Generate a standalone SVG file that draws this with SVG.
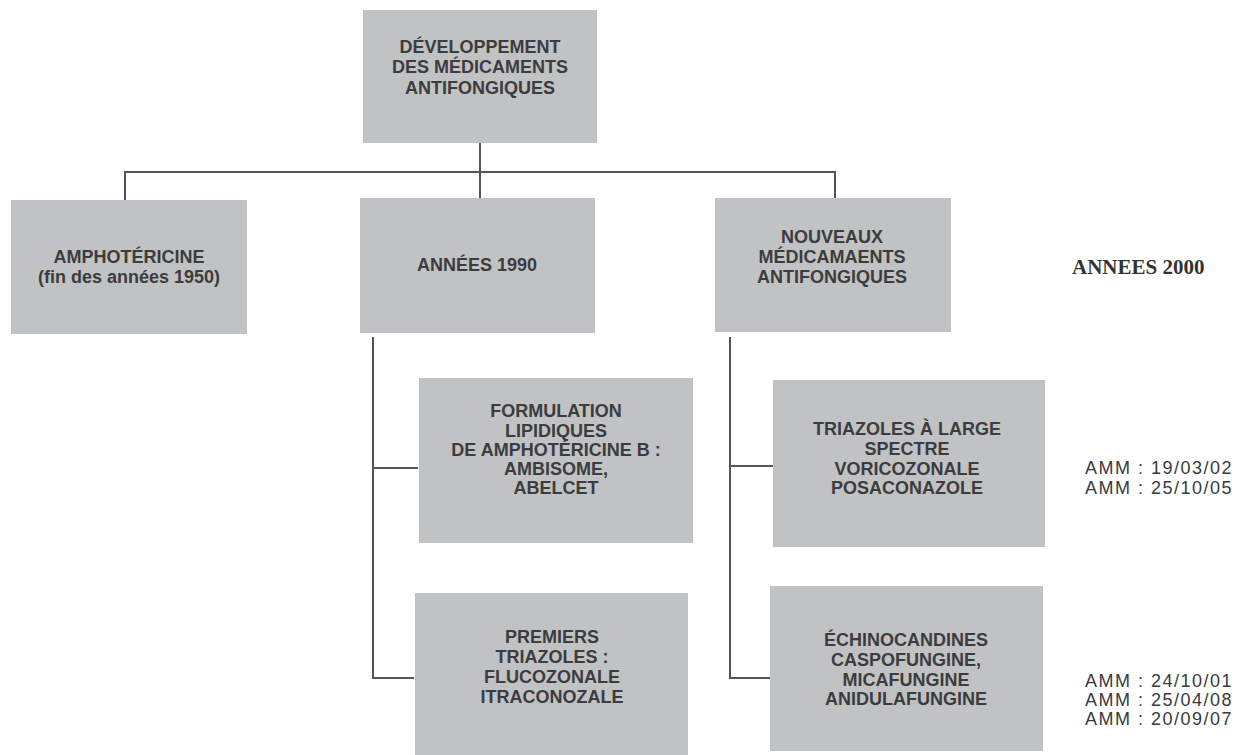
<svg xmlns="http://www.w3.org/2000/svg" width="1250" height="755" viewBox="0 0 1250 755">
<style>
.box{fill:#c1c2c4}
.t{font-family:"Liberation Sans",Arial,sans-serif;font-weight:bold;font-size:18px;fill:#3c3c3e;text-anchor:middle}
.amm{font-family:"Liberation Sans",Arial,sans-serif;font-size:18px;fill:#3a3a3a;letter-spacing:1.5px}
.era{font-family:"Liberation Serif","Times New Roman",serif;font-weight:bold;font-size:21px;fill:#333}
.c{fill:none;stroke:#555;stroke-width:2}
</style>
<rect width="1250" height="755" fill="#fff"/>
<g id="connectors">
<path class="c" d="M480 143V172M125 200V172H835V198M480 172V198"/>
<path class="c" d="M373 337V678H414M373 468H418"/>
<path class="c" d="M730 337V678H770M730 466H773"/>
</g>
<g id="n-root">
<rect class="box" x="363" y="10" width="234" height="133"/>
<text class="t" x="480" y="53">DÉVELOPPEMENT</text>
<text class="t" x="480" y="73">DES MÉDICAMENTS</text>
<text class="t" x="480" y="94">ANTIFONGIQUES</text>
</g>
<g id="n-ampho">
<rect class="box" x="11" y="200" width="236" height="134"/>
<text class="t" x="129" y="263">AMPHOTÉRICINE</text>
<text class="t" x="129" y="283">(fin des années 1950)</text>
</g>
<g id="n-1990">
<rect class="box" x="360" y="198" width="235" height="135"/>
<text class="t" x="477" y="271">ANNÉES 1990</text>
</g>
<g id="n-nouveaux">
<rect class="box" x="715" y="198" width="236" height="134"/>
<text class="t" x="832" y="243">NOUVEAUX</text>
<text class="t" x="832" y="263">MÉDICAMAENTS</text>
<text class="t" x="832" y="283">ANTIFONGIQUES</text>
</g>
<g id="n-era2000">
<text class="era" x="1072" y="274">ANNEES 2000</text>
</g>
<g id="n-formulation">
<rect class="box" x="419" y="378" width="274" height="165"/>
<text class="t" x="556" y="417">FORMULATION</text>
<text class="t" x="556" y="437">LIPIDIQUES</text>
<text class="t" x="556" y="456">DE AMPHOTÉRICINE B :</text>
<text class="t" x="556" y="475">AMBISOME,</text>
<text class="t" x="556" y="494">ABELCET</text>
</g>
<g id="n-premiers">
<rect class="box" x="415" y="593" width="273" height="170"/>
<text class="t" x="552" y="643">PREMIERS</text>
<text class="t" x="552" y="663">TRIAZOLES :</text>
<text class="t" x="552" y="683">FLUCOZONALE</text>
<text class="t" x="552" y="703">ITRACONOZALE</text>
</g>
<g id="n-triazoles">
<rect class="box" x="773" y="380" width="272" height="167"/>
<text class="t" x="907" y="435">TRIAZOLES À LARGE</text>
<text class="t" x="907" y="455">SPECTRE</text>
<text class="t" x="907" y="475">VORICOZONALE</text>
<text class="t" x="907" y="494">POSACONAZOLE</text>
</g>
<g id="n-echino">
<rect class="box" x="770" y="586" width="273" height="165"/>
<text class="t" x="906" y="646">ÉCHINOCANDINES</text>
<text class="t" x="906" y="666">CASPOFUNGINE,</text>
<text class="t" x="906" y="686">MICAFUNGINE</text>
<text class="t" x="906" y="705">ANIDULAFUNGINE</text>
</g>
<g id="n-amm1">
<text class="amm" x="1085" y="474">AMM : 19/03/02</text>
<text class="amm" x="1085" y="494">AMM : 25/10/05</text>
</g>
<g id="n-amm2">
<text class="amm" x="1085" y="687">AMM : 24/10/01</text>
<text class="amm" x="1085" y="706">AMM : 25/04/08</text>
<text class="amm" x="1085" y="725">AMM : 20/09/07</text>
</g>
</svg>
